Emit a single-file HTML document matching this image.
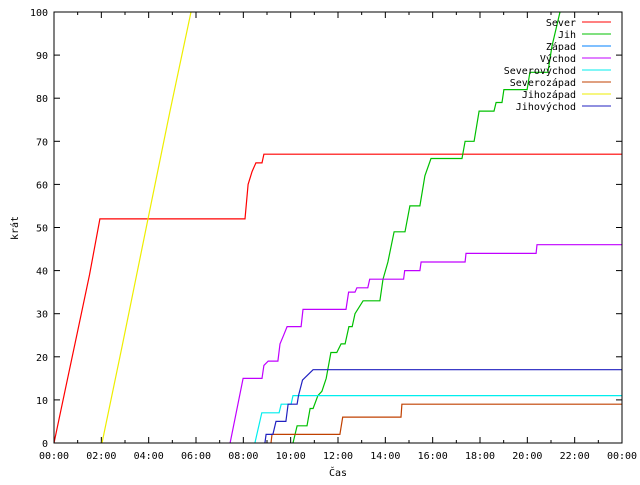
<!DOCTYPE html>
<html><head><meta charset="utf-8"><style>
body{margin:0;background:#fff}
svg text{font-family:"DejaVu Sans Mono","Liberation Mono",monospace;font-size:10px;fill:#000}
</style></head><body>
<svg id="c" width="640" height="480"></svg>
<script>
const seriesNames=["Sever","Jih","Západ","Východ","Severovýchod","Severozápad","Jihozápad","Jihovýchod"];
const seriesColors=["#ff0000","#00c000","#0080ff","#c000ff","#00eeee","#c04000","#eeee00","#2020c0"];
const xTickLabels=["00:00","02:00","04:00","06:00","08:00","10:00","12:00","14:00","16:00","18:00","20:00","22:00","00:00"];
const yTicks=[0,10,20,30,40,50,60,70,80,90,100];
// times in hours, values in counts
const severT=[0,0.5,1,1.5,1.94,8.07,8.2,8.37,8.53,8.79,8.87,24];
const severV=[0,13,26,39,52,52,60,63,65,65,67,67];
const jihT=[10.1,10.27,10.69,10.82,10.95,11.15,11.32,11.5,11.7,11.95,12.13,12.3,12.46,12.6,12.72,13.06,13.77,13.9,14.11,14.37,14.83,15.04,15.46,15.67,15.93,17.24,17.37,17.75,17.96,18.59,18.68,18.93,19.01,19.99,20.11,20.87,21.04,21.38];
const jihV=[0,4,4,8,8,11,12,15,21,21,23,23,27,27,30,33,33,38,42,49,49,55,55,62,66,66,70,70,77,77,79,79,82,82,86,86,92,100];
const zapadT=[];
const zapadV=[];
const vychodT=[7.44,7.99,8.79,8.87,9.05,9.46,9.55,9.7,9.85,10.44,10.52,12.34,12.45,12.72,12.8,13.26,13.34,14.77,14.82,15.46,15.51,17.37,17.41,20.37,20.41,24];
const vychodV=[0,15,15,18,19,19,23,25,27,27,31,31,35,35,36,36,38,38,40,40,42,42,44,44,46,46];
const severovychodT=[8.49,8.78,9.51,9.6,10.02,10.1,24];
const severovychodV=[0,7,7,9,9,11,11];
const severozapadT=[9.17,9.21,12.08,12.2,14.66,14.7,24];
const severozapadV=[0,2,2,6,6,9,9];
const jihozapadT=[2.03,2.9,3.97,4.9,5.79];
const jihozapadV=[0,23,52,77,100];
const jihovychodT=[8.91,8.96,9.25,9.38,9.8,9.89,10.27,10.33,10.5,10.95,24];
const jihovychodV=[0,2,2,5,5,9,9,11,14.6,17,17];
const allT=[severT,jihT,zapadT,vychodT,severovychodT,severozapadT,jihozapadT,jihovychodT];
const allV=[severV,jihV,zapadV,vychodV,severovychodV,severozapadV,jihozapadV,jihovychodV];

const L=54,R=622,T=12,B=443;
const xs=h=>L+(R-L)*h/24;
const ys=v=>B-(B-T)*v/100;
const svg=document.getElementById('c');
const NS="http://www.w3.org/2000/svg";
function mk(tag,attrs,parent){const e=document.createElementNS(NS,tag);for(const k in attrs)e.setAttribute(k,attrs[k]);(parent||svg).appendChild(e);return e;}

const axes=mk('g',{});


yTicks.forEach(v=>{
  const y=ys(v);
  mk('line',{x1:L,x2:L+6,y1:y,y2:y,stroke:'#000'},axes);
  mk('line',{x1:R-6,x2:R,y1:y,y2:y,stroke:'#000'},axes);
  const t=mk('text',{x:L-6,y:y+4,'text-anchor':'end'},axes);
  t.textContent=v;
  
  
});
xTickLabels.forEach((lab,i)=>{
  const x=xs(i*2);
  mk('line',{x1:x,x2:x,y1:B,y2:B-6,stroke:'#000'},axes);
  mk('line',{x1:x,x2:x,y1:T,y2:T+6,stroke:'#000'},axes);
  if(i<12){const xm=xs(i*2+1);
    mk('line',{x1:xm,x2:xm,y1:B,y2:B-3,stroke:'#000'},axes);
    mk('line',{x1:xm,x2:xm,y1:T,y2:T+3,stroke:'#000'},axes);}
  const t=mk('text',{x:x,y:B+16,'text-anchor':'middle'},axes);
  t.textContent=lab;
  
  
});
const yl=mk('text',{x:18,y:228,'text-anchor':'middle',transform:'rotate(-90 18 228)'});
yl.textContent='krát';


const xl=mk('text',{x:338,y:476,'text-anchor':'middle'});
xl.textContent='Čas';



allT.forEach((ts,i)=>{
  if(!ts.length)return;
  const pts=ts.map((h,j)=>xs(h).toFixed(1)+','+ys(allV[i][j]).toFixed(1)).join(' ');
  const p=mk('polyline',{points:pts,fill:'none',stroke:seriesColors[i],'stroke-width':1.2});
  
  
});
const fr=mk('rect',{x:L,y:T,width:R-L,height:B-T,fill:'none',stroke:'#000'});



seriesNames.forEach((n,i)=>{
  const y=22+i*12;
  const g=mk('g',{});
  
  
  const t=mk('text',{x:576,y:y+4,'text-anchor':'end'},g);
  t.textContent=n;
  mk('line',{x1:582,x2:611,y1:y,y2:y,stroke:seriesColors[i],'stroke-width':1},g);
});
</script>
</body></html>
